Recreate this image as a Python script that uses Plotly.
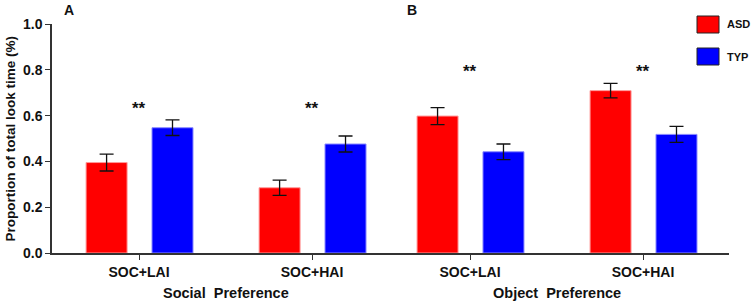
import plotly.graph_objects as go

# ---- data ----
categories = ["SOC+LAI", "SOC+HAI", "SOC+LAI", "SOC+HAI"]
panels = ["Social  Preference", "Social  Preference", "Object  Preference", "Object  Preference"]
asd_mean = [0.395, 0.285, 0.598, 0.709]
asd_err = [0.037, 0.033, 0.037, 0.032]
typ_mean = [0.547, 0.476, 0.442, 0.518]
typ_err = [0.034, 0.035, 0.034, 0.035]
significance = ["**", "**", "**", "**"]
y_ticks = [0.0, 0.2, 0.4, 0.6, 0.8, 1.0]

# ---- layout helpers ----
W, H = 752, 303
PW, PH = 677, 229
ML, MT = 52, 24
MR = W - ML - PW
MB = H - MT - PH
panel_shift = -0.087  # panel B sits slightly closer
xpos = []
for i, p in enumerate(panels):
    xpos.append(i + (panel_shift if p != panels[0] else 0.0))

FONT = "Liberation Sans, Arial, sans-serif"
RED = "#FF0000"
BLUE = "#0000FF"
AX = "#333333"
TXT = "#111111"
bar_w = 0.237


def px_to_paper_x(px):  # page pixel -> paper
    return (px - ML) / PW


def px_to_paper_y(py):
    return (MT + PH - py) / PH


fig = go.Figure()
fig.add_trace(go.Bar(
    x=xpos, y=asd_mean, name="ASD", width=bar_w, offset=-0.306,
    marker=dict(color=RED, line=dict(color="#FF9A9A", width=1)),
    error_y=dict(type="data", array=asd_err, visible=True, color=TXT,
                 thickness=1.3, width=7),
    showlegend=False,
))
fig.add_trace(go.Bar(
    x=xpos, y=typ_mean, name="TYP", width=bar_w, offset=0.075,
    marker=dict(color=BLUE, line=dict(color="#8A8AFF", width=1)),
    error_y=dict(type="data", array=typ_err, visible=True, color=TXT,
                 thickness=1.3, width=7),
    showlegend=False,
))

annotations = []
# significance stars (per panel height)
for i, s in enumerate(significance):
    sy = 0.632 if panels[i] == panels[0] else 0.793
    annotations.append(dict(x=xpos[i], y=sy, xref="x", yref="y", text=s,
                            showarrow=False, xanchor="center", yanchor="middle",
                            font=dict(family=FONT, size=17, color=TXT, weight="bold")))
# panel group titles
for name in dict.fromkeys(panels):
    idx = [i for i, p in enumerate(panels) if p == name]
    cx = sum(xpos[i] for i in idx) / len(idx)
    annotations.append(dict(x=cx, y=0, xref="x", yref="paper", text=name,
                            showarrow=False, xanchor="center", yanchor="middle",
                            yshift=-40,
                            font=dict(family=FONT, size=14.5, color=TXT, weight="bold")))
# panel letters
for letter, lx in [("A", 69), ("B", 412)]:
    annotations.append(dict(x=px_to_paper_x(lx), y=px_to_paper_y(10), xref="paper", yref="paper",
                            text=letter, showarrow=False, xanchor="center", yanchor="middle",
                            font=dict(family=FONT, size=14, color=TXT, weight="bold")))
# y-axis title
annotations.append(dict(x=0, y=0.5, xref="paper", yref="paper",
                        text="Proportion of total look time (%)", textangle=-90,
                        showarrow=False, xanchor="center", yanchor="middle", xshift=-42,
                        font=dict(family=FONT, size=13.5, color=TXT, weight="bold")))

# legend drawn manually
shapes = []
legend_items = [("ASD", RED, 16, 33), ("TYP", BLUE, 48, 65)]
for label, col, y0, y1 in legend_items:
    shapes.append(dict(type="rect", xref="paper", yref="paper",
                       x0=px_to_paper_x(697), x1=px_to_paper_x(719),
                       y0=px_to_paper_y(y1), y1=px_to_paper_y(y0),
                       fillcolor=col, line=dict(color="#222222", width=1)))
    annotations.append(dict(x=px_to_paper_x(725), y=px_to_paper_y((y0 + y1) / 2),
                            xref="paper", yref="paper", text=label, showarrow=False,
                            xanchor="left", yanchor="middle",
                            font=dict(family=FONT, size=11, color=TXT, weight="bold")))

fig.update_layout(
    width=W, height=H,
    margin=dict(l=ML, r=MR, t=MT, b=MB, pad=0),
    paper_bgcolor="white", plot_bgcolor="white",
    barmode="overlay",
    shapes=shapes, annotations=annotations,
    xaxis=dict(range=[-0.503, 3.41], tickvals=xpos, ticktext=categories,
               showline=True, linecolor=AX, linewidth=1.5,
               ticks="outside", ticklen=5, tickwidth=1.3, tickcolor=AX,
               showgrid=False, zeroline=False,
               tickfont=dict(family=FONT, size=14, color=TXT, weight="bold")),
    yaxis=dict(range=[0, 1.0], tickvals=y_ticks, tickformat=".1f",
               showline=True, linecolor=AX, linewidth=1.5,
               ticks="outside", ticklen=5, tickwidth=1.3, tickcolor=AX,
               showgrid=False, zeroline=False,
               tickfont=dict(family=FONT, size=14, color=TXT, weight="bold")),
)

fig.write_html("out.html",
               config={"displayModeBar": False},
               post_script="document.body.style.margin='0';document.body.style.overflow='hidden';")
